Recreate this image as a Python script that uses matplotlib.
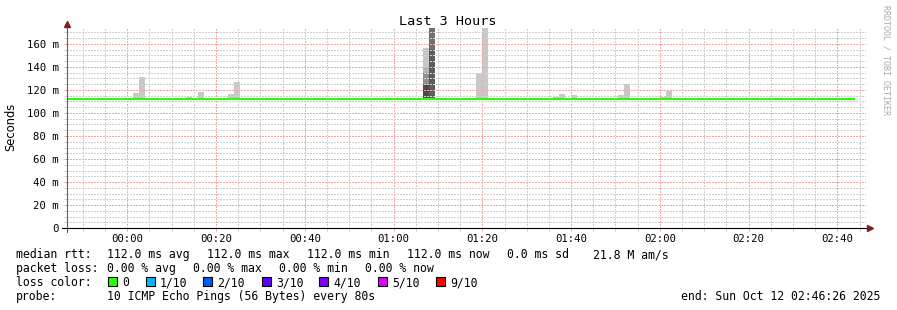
import numpy as np
import pandas as pd
import matplotlib
matplotlib.use("Agg")
import matplotlib.pyplot as plt
from matplotlib.patches import Rectangle
from matplotlib.ticker import FixedLocator

# time window of the graph
window_start = "2025-10-11 23:46:26"
window_end = "2025-10-12 02:46:26"
midnight = "2025-10-12 00:00:00"
step_sec = 80

# median rtt (ms)
median_times = ["2025-10-11 23:46:26", "2025-10-12 02:44:00"]
median_rtt = [112.0, 112.0]

# smoke: start of each 80s step with pings above the median, top of outer smoke (ms)
smoke_times = ["00:01:20", "00:02:40", "00:13:20", "00:16:00", "00:22:40", "00:24:00",
               "01:06:40", "01:08:00", "01:18:40", "01:20:00", "01:36:00", "01:37:20",
               "01:40:00", "01:50:40", "01:52:00", "02:00:00", "02:01:20"]
smoke_top = [117.4, 131.3, 113.9, 118.3, 116.5, 127.0,
             156.5, 174.0, 134.8, 174.0, 114.0, 116.5,
             115.3, 115.6, 125.0, 114.0, 119.0]

# inner (darker) smoke bands of the two busy steps
core_times = ["01:06:40", "01:06:40", "01:06:40", "01:08:00", "01:08:00"]
core_top = [139.0, 135.0, 124.6, 174.0, 156.0]
core_level = [1, 2, 5, 3, 4]

y_ticks = [0, 20, 40, 60, 80, 100, 120, 140, 160]
y_tick_labels = ["0", "20 m", "40 m", "60 m", "80 m", "100 m", "120 m", "140 m", "160 m"]
x_tick_labels = ["00:00", "00:20", "00:40", "01:00", "01:20", "01:40", "02:00", "02:20", "02:40"]

rtt_names = ["avg", "max", "min", "now"]
rtt_vals = [112.0, 112.0, 112.0, 112.0]
rtt_sd = 0.0
am_s = 21.8
loss_names = ["avg", "max", "min", "now"]
loss_vals = [0.00, 0.00, 0.00, 0.00]
loss_labels = ["0", "1/10", "2/10", "3/10", "4/10", "5/10", "9/10"]
loss_colors = ["#26ff00", "#00b8ff", "#0059ff", "#5e00ff", "#7e00ff", "#dd00ff", "#ff0000"]
probe_text = "10 ICMP Echo Pings (56 Bytes) every 80s"
end_text = "end: Sun Oct 12 02:46:26 2025"

# styles / layout
mono = "DejaVu Sans Mono"
fs = 8.3
core_shades = {1: "#b4b4b4", 2: "#8e8e8e", 3: "#707070", 4: "#5c5c5c", 5: "#4a4a4a"}
rtt_x = [107, 207, 307, 407]
loss_x = [107, 193, 279, 365]
swatch_x = [108, 146, 203, 262, 319, 378, 436]

W, H = 897, 310


def px(x, y):
    return x / W, 1 - y / H


def to_min(ts):
    return (pd.Timestamp(ts) - pd.Timestamp(midnight)).total_seconds() / 60


def clock_min(s):
    return pd.to_timedelta(s).total_seconds() / 60


def legend_text(x, y, s, **kw):
    fig.text(*px(x, y), s, fontfamily=mono, fontsize=fs, va="baseline", **kw)


fig = plt.figure(figsize=(W / 100, H / 100), dpi=100)
fig.patch.set_facecolor("white")

ymax = 174.5
ax = fig.add_axes([67 / W, (H - 228) / H, 799 / W, ymax * 1.15 / H])
ax.set_xlim(to_min(window_start), to_min(window_end))
ax.set_ylim(0, ymax)
for s in ax.spines.values():
    s.set_visible(False)

step_min = step_sec / 60
mt = [to_min(t) for t in median_times]
sx = [clock_min(t) for t in smoke_times]
base = np.interp(sx, mt, median_rtt)
ax.bar(sx, np.array(smoke_top) - base, bottom=base, width=step_min, align="edge",
       color="#c8c8c8", linewidth=0, zorder=1)
cx = [clock_min(t) for t in core_times]
cbase = np.interp(cx, mt, median_rtt)
ax.bar(cx, np.array(core_top) - cbase, bottom=cbase, width=step_min, align="edge",
       color=[core_shades[l] for l in core_level], linewidth=0, zorder=1)

ax.plot(mt, median_rtt, color="#26ff00", lw=1.5, solid_capstyle="butt", zorder=3)

# ticks and grid
xt = [clock_min(l + ":00") for l in x_tick_labels]
ax.set_xticks(xt)
ax.set_xticklabels(x_tick_labels, fontfamily=mono, fontsize=7.7)
x0, x1 = ax.get_xlim()
xminor = [m for m in np.arange(-10, x1, 5) if m % 20 != 0 and m > x0]
ax.xaxis.set_minor_locator(FixedLocator(xminor))
ax.set_yticks(y_ticks)
ax.set_yticklabels(y_tick_labels, fontfamily=mono, fontsize=7.7)
yminor = [v for v in np.arange(5, ymax, 5) if v % 20 != 0]
ax.yaxis.set_minor_locator(FixedLocator(yminor))

ax.set_axisbelow(False)
ax.grid(which="major", color="#f0a8a8", lw=0.72, linestyle=(0, (1.4, 1.4)),
        antialiased=False)
ax.grid(which="minor", color="#d0d0d0", lw=0.72, linestyle=(0, (1.4, 1.4)),
        antialiased=False)
ax.tick_params(which="major", length=2, width=0.72, color="#e0a0a0", direction="out")
ax.tick_params(which="minor", length=2, width=0.72, color="#cccccc", direction="out")
ax.tick_params(axis="x", which="major", pad=2.5)
ax.tick_params(axis="y", which="major", pad=4)

# axis lines and arrows
ax.plot([0, 0], [-0.02, 1.01], transform=ax.transAxes, color="#606060", lw=0.8,
        clip_on=False, zorder=4)
ax.plot([-0.006, 1.003], [0, 0], transform=ax.transAxes, color="black", lw=0.8,
        clip_on=False, zorder=4)
ax.plot([0], [1.019], marker="^", ms=4.5, color="#7f1f1f", transform=ax.transAxes,
        clip_on=False, zorder=5)
ax.plot([1.0056], [0], marker=">", ms=4.5, color="#7f1f1f", transform=ax.transAxes,
        clip_on=False, zorder=5)

# title, labels
fig.text(*px(448, 25), "Last 3 Hours", fontfamily=mono, fontsize=9.7, ha="center", va="baseline")
fig.text(*px(11, 127), "Seconds", fontfamily="DejaVu Sans", fontsize=8.3, rotation=90,
         ha="center", va="center")
fig.text(*px(886, 5), "RRDTOOL / TOBI OETIKER", fontfamily=mono, fontsize=6,
         rotation=270, ha="center", va="top", color="#aaaaaa")

# legend
legend_text(16, 258, "median rtt:")
for x, v, n in zip(rtt_x, rtt_vals, rtt_names):
    legend_text(x, 258, "%5.1f ms %s" % (v, n))
legend_text(507, 258, "%3.1f ms sd" % rtt_sd)
legend_text(593, 258, "%4.1f M am/s" % am_s)

legend_text(16, 272, "packet loss:")
for x, v, n in zip(loss_x, loss_vals, loss_names):
    legend_text(x, 272, "%4.2f %% %s" % (v, n))

legend_text(16, 286, "loss color:")
for x, lab, col in zip(swatch_x, loss_labels, loss_colors):
    bx, by = px(x, 286)
    fig.patches.append(Rectangle((bx, by), 9 / W, 9 / H, transform=fig.transFigure,
                                 facecolor=col, edgecolor="black", lw=0.8))
    legend_text(x + 14, 286, lab)

legend_text(16, 300, "probe:")
legend_text(107, 300, probe_text)
legend_text(880, 300, end_text, ha="right")

fig.savefig("out.png", dpi=100)
